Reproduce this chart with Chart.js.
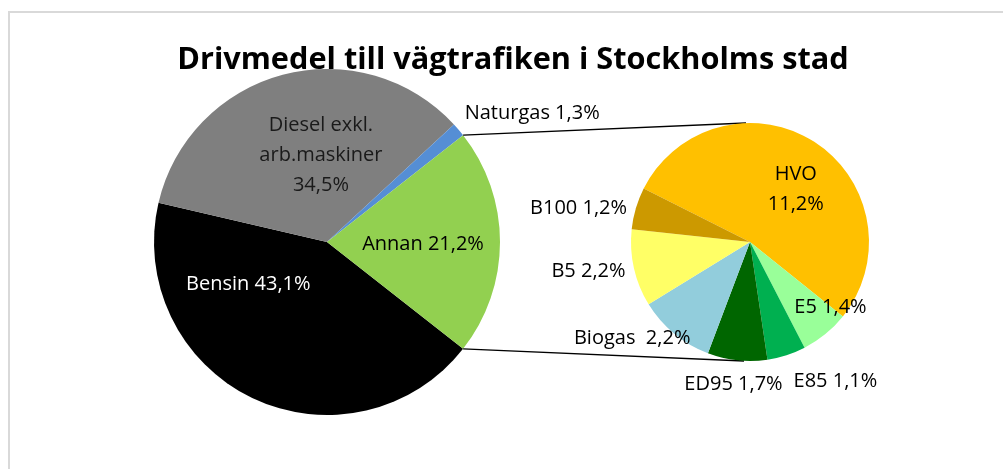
<!DOCTYPE html>
<html lang="sv">
<head>
<meta charset="UTF-8">
<title>Drivmedel till vägtrafiken i Stockholms stad</title>
<script src="https://cdn.jsdelivr.net/npm/chart.js"></script>
<style>
  html, body { margin: 0; padding: 0; background: #fff; overflow: hidden; }
  #wrap { position: relative; width: 1003px; height: 469px; }
  #frame {
    position: absolute; left: 8px; top: 11px; width: 1100px; height: 500px;
    border-left: 2px solid #d9d9d9; border-top: 2px solid #d9d9d9;
  }
  #title {
    position: absolute; left: 10px; width: 1006px; top: 36px; text-align: center; z-index: 2;
    font: bold 30.7px "Open Sans", sans-serif; color: #000; line-height: 42px;
  }
  canvas { position: absolute; left: 0; top: 0; }
</style>
</head>
<body>
<div id="wrap">
  <div id="frame"></div>
  <canvas id="mainPie" width="1003" height="469"></canvas>
  <canvas id="subPie" width="1003" height="469"></canvas>
  <div id="title">Drivmedel till vägtrafiken i Stockholms stad</div>
</div>
<script>
  // main pie (share of fuel, %)
  const mainNames = ['Bensin', 'Diesel exkl.\narb.maskiner', 'Naturgas', 'Annan'];
  const mainValues = [43.1, 34.5, 1.3, 21.2];
  const mainColors = ['#000000', '#7f7f7f', '#558ed5', '#92d050'];

  // breakdown of "Annan"
  const subNames = ['HVO', 'E5', 'E85', 'ED95', 'Biogas ', 'B5', 'B100'];
  const subValues = [11.2, 1.4, 1.1, 1.7, 2.2, 2.2, 1.2];
  const subColors = ['#ffc000', '#99ff99', '#00b050', '#006600', '#92cddc', '#ffff66', '#cc9900'];

  // label placement, in units of the pie radius from the centre
  const mainLabelPos = [[-0.455, 0.247], [-0.035, -0.50], [1.186, -0.742], [0.555, 0.016]];
  const mainLabelColor = ['#ffffff', '#1a1a1a', '#000', '#000'];
  const subLabelPos = [[0.385, -0.44], [0.676, 0.552], [0.718, 1.171], [-0.139, 1.199],
                       [-0.99, 0.807], [-1.357, 0.247], [-1.441, -0.28]];

  const FONT = '20px "Open Sans", sans-serif';
  const fmt = v => v.toFixed(1).replace('.', ',') + '%';

  function labelPlugin(id, names, values, pos, colors) {
    return {
      id: id,
      afterDatasetsDraw(chart) {
        const ctx = chart.ctx;
        const arcs = chart.getDatasetMeta(0).data;
        ctx.save();
        ctx.font = FONT;
        ctx.textAlign = 'center';
        ctx.textBaseline = 'middle';
        arcs.forEach((arc, i) => {
          const r = arc.outerRadius;
          const x = arc.x + pos[i][0] * r;
          const y = arc.y + pos[i][1] * r;
          const multi = names[i].includes('\n') || names[i] === 'HVO';
          const lines = (names[i] + (multi ? '\n' : ' ') + fmt(values[i])).split('\n');
          const lh = 30;
          ctx.fillStyle = colors ? colors[i] : '#000';
          lines.forEach((t, k) => {
            ctx.fillText(t, x, y + (k - (lines.length - 1) / 2) * lh);
          });
        });
        ctx.restore();
      }
    };
  }

  const mainTotal = mainValues.reduce((a, b) => a + b, 0);
  const mainChart = new Chart(document.getElementById('mainPie'), {
    type: 'pie',
    data: {
      labels: mainNames,
      datasets: [{ data: mainValues, backgroundColor: mainColors, borderWidth: 0 }]
    },
    options: {
      responsive: false,
      animation: false,
      // "Annan" centred on the right side
      rotation: 90 + 180 * mainValues[3] / mainTotal,
      layout: { padding: { left: 154, right: 503, top: 69, bottom: 54 } },
      plugins: { legend: { display: false }, tooltip: { enabled: false } }
    },
    plugins: [labelPlugin('mainLabels', mainNames, mainValues, mainLabelPos, mainLabelColor)]
  });

  // connector lines from "Annan" to the second pie
  const connectors = {
    id: 'connectors',
    beforeDatasetsDraw(chart) {
      const annan = mainChart.getDatasetMeta(0).data[3];
      const sub = chart.getDatasetMeta(0).data[0];
      const ctx = chart.ctx;
      const p = a => [annan.x + annan.outerRadius * Math.cos(a), annan.y + annan.outerRadius * Math.sin(a)];
      const a1 = p(annan.startAngle), a2 = p(annan.endAngle);
      ctx.save();
      ctx.strokeStyle = '#000';
      ctx.lineWidth = 1.3;
      ctx.beginPath();
      ctx.moveTo(a1[0], a1[1]);
      ctx.lineTo(sub.x - 4, sub.y - sub.outerRadius);
      ctx.moveTo(a2[0], a2[1]);
      ctx.lineTo(sub.x - 6, sub.y + sub.outerRadius);
      ctx.stroke();
      ctx.restore();
    }
  };

  new Chart(document.getElementById('subPie'), {
    type: 'pie',
    data: {
      labels: subNames,
      datasets: [{ data: subValues, backgroundColor: subColors, borderWidth: 0 }]
    },
    options: {
      responsive: false,
      animation: false,
      rotation: 296.7,
      layout: { padding: { left: 631, right: 134, top: 123, bottom: 108 } },
      plugins: { legend: { display: false }, tooltip: { enabled: false } }
    },
    plugins: [connectors, labelPlugin('subLabels', subNames, subValues, subLabelPos, null)]
  });
</script>
</body>
</html>
